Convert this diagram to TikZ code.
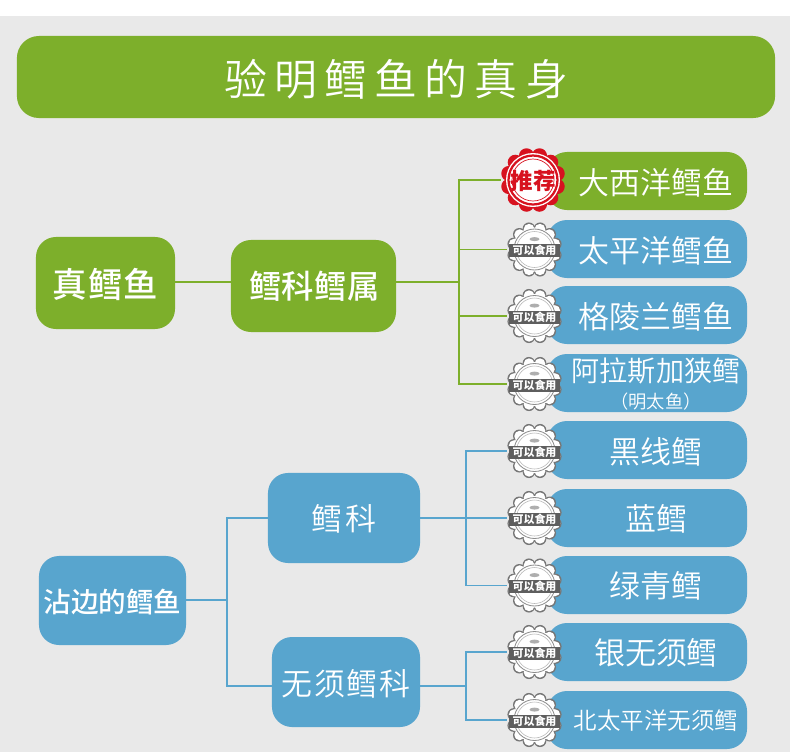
\documentclass[tikz,border=0pt]{standalone}
\usepackage{fontspec}
\usepackage{tikz}
\usetikzlibrary{arrows.meta,positioning}
\newfontfamily\cjk{Noto Sans CJK SC}
\newfontfamily\cjklight{Noto Sans CJK SC Light}
\newfontfamily\cjkdemi{Noto Sans CJK SC DemiLight}
\newfontfamily\cjkmed{Noto Sans CJK SC Medium}
\definecolor{fishgreen}{HTML}{7DAF2B}
\definecolor{fishblue}{HTML}{58A5CE}
\definecolor{fishgrey}{HTML}{E9E9E9}
\definecolor{stampgrey}{HTML}{5E5E5E}
\definecolor{stampred}{HTML}{D7121F}
\newcommand{\lpad}{\hspace*{0.45cm}}
\tikzset{
  txt/.style n args={2}{font=\cjkdemi\fontsize{#1}{#1}\selectfont\addfontfeature{LetterSpace=#2}},
  txtb/.style n args={2}{font=\cjkmed\fontsize{#1}{#1}\selectfont\addfontfeature{LetterSpace=#2}},
  boxbase/.style={rounded corners=0.5cm,inner sep=0pt,text=white,align=center,text depth=0pt},
  greenbox/.style={boxbase,fill=fishgreen},
  bluebox/.style={boxbase,fill=fishblue},
  greenline/.style={draw=fishgreen,line width=1.3pt},
  blueline/.style={draw=fishblue,line width=1.3pt},
  stampnode/.style={circle,inner sep=0pt,minimum size=1.375cm},
  stampband/.style={fill=stampgrey,text=white,inner sep=0pt,minimum width=1.25cm,minimum height=0.33cm,font=\cjk\bfseries\fontsize{7.8}{7.8}\selectfont},
}
% grey stamp on the left end of each fish box
\newcommand{\foodstamp}[3]{
  \node[stampnode] (#1) at (#2,#3) {};
  \foreach \a in {0,30,...,330}{\fill[stampgrey!85] ([shift={(\a+15:21.5)}]#1.center) circle (6.3);}
  \foreach \a in {0,30,...,330}{\fill[white] ([shift={(\a+15:21)}]#1.center) circle (5.4);}
  \fill[white] (#1.center) circle (22);
  \draw[stampgrey!70,line width=0.6pt] (#1.center) circle (20.5);
  \draw[stampgrey!45,line width=0.4pt] (#1.center) circle (18);
  \fill[stampgrey!50] ([yshift=0.26cm]#1.center) ellipse (5 and 2);
  \node[stampband] (#1band) at ([yshift=-0.03cm]#1.center) {可以食用};
}
\begin{document}
\begin{tikzpicture}[x=0.025cm,y=-0.025cm]
\useasboundingbox (0,0) rectangle (790,752);
\fill[white] (0,0) rectangle (790,16);
\fill[fishgrey] (0,16) rectangle (790,752);
% title
\node[greenbox,rounded corners=0.55cm,minimum width=18.95cm,minimum height=2.05cm,txt={30.5}{17}] (title) at (396,77) {验明鳕鱼的真身};
% true cod
\node[greenbox,minimum width=3.475cm,minimum height=2.3cm,txtb={24.5}{3}] (truecod) at (105.5,283) {真鳕鱼};
\node[greenbox,minimum width=4.125cm,minimum height=2.3cm,txtb={23}{1}] (gadus) at (313.5,286) {\raisebox{0.075cm}{\hspace*{0.05cm}鳕科鳕属}};
\node[greenbox,minimum width=5cm,minimum height=1.45cm,txt={22}{0}] (atl) at (647,181) {\lpad 大西洋鳕鱼};
\node[bluebox,minimum width=5cm,minimum height=1.45cm,txt={22}{0}] (pac) at (647,249) {\lpad 太平洋鳕鱼};
\node[bluebox,minimum width=5cm,minimum height=1.45cm,txt={22}{0}] (grn) at (647,315) {\lpad 格陵兰鳕鱼};
\node[bluebox,minimum width=5cm,minimum height=1.45cm,txt={20}{0}] (ala) at (647,383) {\lpad 阿拉斯加狭鳕\\[-0.03cm]\lpad\fontsize{13}{13}\selectfont （明太鱼）};
% fringe cod
\node[bluebox,minimum width=3.675cm,minimum height=2.225cm,txtb={19.6}{0}] (fringe) at (112.5,600.5) {沾边的鳕鱼};
\node[bluebox,minimum width=3.8cm,minimum height=2.25cm,txt={22}{10}] (gadidae) at (344,518) {鳕科};
\node[bluebox,minimum width=3.7cm,minimum height=2.25cm,txt={22}{5}] (merlu) at (346,682) {\raisebox{-0.05cm}{无须鳕科}};
\node[bluebox,minimum width=5cm,minimum height=1.45cm,txt={22}{0}] (blk) at (647,450) {\lpad 黑线鳕};
\node[bluebox,minimum width=5cm,minimum height=1.45cm,txt={22}{0}] (blu) at (647,518) {\lpad 蓝鳕};
\node[bluebox,minimum width=5cm,minimum height=1.45cm,txt={22}{0}] (grc) at (647,585) {\lpad 绿青鳕};
\node[bluebox,minimum width=5cm,minimum height=1.45cm,txt={22}{0}] (sil) at (647,652) {\lpad 银无须鳕};
\node[bluebox,minimum width=5cm,minimum height=1.45cm,txt={16.7}{0}] (npc) at (647,720) {\lpad 北太平洋无须鳕};
% red stamp
\node[stampnode,minimum size=1.6cm] (st1) at (533,180) {};
\foreach \a in {0,30,...,330}{\fill[stampred] ([shift={(\a+15:25)}]st1.center) circle (7.6);}
\fill[white] (st1.center) circle (27);
\draw[stampred,line width=1.6pt] (st1.center) circle (24.5);
\draw[stampred,line width=0.5pt] (st1.center) circle (21);
\node[text=stampred,inner sep=0pt,font=\cjk\bfseries\fontsize{16}{16}\selectfont] (st1text) at (533,181) {推荐};
% grey stamps
\foodstamp{st2}{534.5}{249.5}
\foodstamp{st3}{534.5}{316}
\foodstamp{st4}{534.5}{384}
\foodstamp{st5}{534.5}{451}
\foodstamp{st6}{534.5}{518}
\foodstamp{st7}{534.5}{585.5}
\foodstamp{st8}{534.5}{652}
\foodstamp{st9}{534.5}{720}
% connectors
\coordinate (jgadus) at (459,282);
\coordinate (jfringe) at (227,600);
\coordinate (jgadidae) at (466,518);
\coordinate (jmerlu) at (466,686);
\draw[greenline] (truecod.east |- jgadus) -- (gadus.west |- jgadus);
\draw[greenline] (gadus.east |- jgadus) -- (jgadus);
\draw[greenline] (jgadus) |- (st1.west);
\draw[greenline] (jgadus) |- (st2.west);
\draw[greenline] (jgadus) |- (st3.west);
\draw[greenline] (jgadus) |- (st4.west);
\draw[blueline] (fringe.east |- jfringe) -- (jfringe);
\draw[blueline] (jfringe) |- (gadidae.west |- jgadidae);
\draw[blueline] (jfringe) |- (merlu.west |- jmerlu);
\draw[blueline] (gadidae.east |- jgadidae) -- (jgadidae);
\draw[blueline] (jgadidae) |- (st5.west);
\draw[blueline] (jgadidae) |- (st6.west);
\draw[blueline] (jgadidae) |- (st7.west);
\draw[blueline] (merlu.east |- jmerlu) -- (jmerlu);
\draw[blueline] (jmerlu) |- (st8.west);
\draw[blueline] (jmerlu) |- (st9.west);
\end{tikzpicture}
\end{document}
